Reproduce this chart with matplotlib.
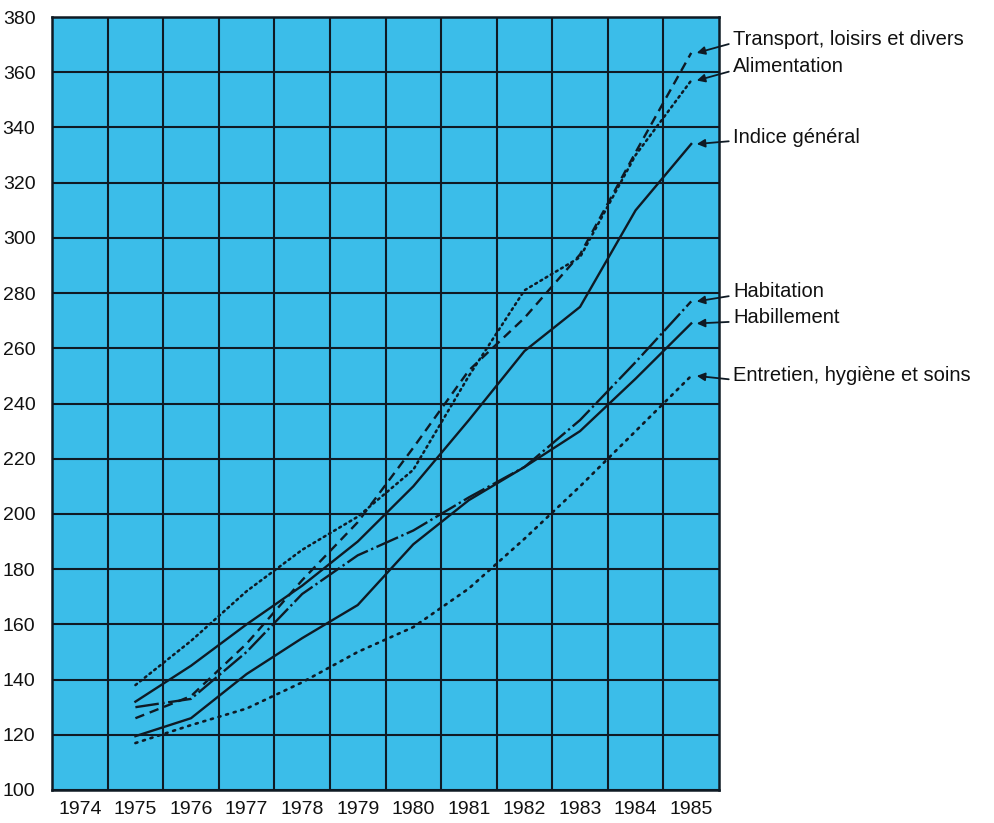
import matplotlib
matplotlib.use("Agg")
import matplotlib.pyplot as plt
import numpy as np

years = [1975, 1976, 1977, 1978, 1979, 1980, 1981, 1982, 1983, 1984, 1985]
year_labels = [1974, 1975, 1976, 1977, 1978, 1979, 1980, 1981, 1982, 1983, 1984, 1985]
y_ticks = list(range(100, 381, 20))

transport = [126, 134, 153, 176, 197, 224, 252, 271, 294, 331, 367]
alimentation = [138, 154, 172, 187, 199, 216, 250, 281, 293, 330, 357]
indice = [132, 145, 160, 174, 190, 210, 234, 259, 275, 310, 334]
habitation = [130, 133, 150, 171, 185, 194, 206, 217, 234, 255, 277]
habillement = [119.5, 126, 142, 155, 167, 189, 205, 217, 230, 249, 269]
entretien = [117, 123.5, 129.5, 139, 150, 159, 173, 191, 210, 230, 250]

labels = ["Transport, loisirs et divers", "Alimentation", "Indice général",
          "Habitation", "Habillement", "Entretien, hygiène et soins"]
label_y = [372, 362, 336.5, 280.5, 271, 250]

plt.rcParams['font.family'] = ['Liberation Sans', 'DejaVu Sans']

BG = '#3bbde9'
INK = '#0f1a24'

fig = plt.figure(figsize=(9.95, 8.23), dpi=100)
ax = fig.add_axes([0.0523, 0.0401, 0.6703, 0.9392])
ax.set_facecolor(BG)

series = [
    (transport, dict(linestyle=(0, (4, 2.5)), lw=1.7)),
    (alimentation, dict(linestyle=(0, (0.8, 1.6)), lw=1.8, dash_capstyle='round')),
    (indice, dict(linestyle='-', lw=1.7)),
    (habitation, dict(linestyle=(0, (10, 1.5, 1, 1.5)), lw=1.7)),
    (habillement, dict(linestyle='-', lw=1.7)),
    (entretien, dict(linestyle=(0, (0.8, 2.2)), lw=1.9, dash_capstyle='round')),
]
for vals, st in series:
    ax.plot(years, vals, color=INK, zorder=3, **st)

ax.set_xlim(1973.5, 1985.5)
ax.set_ylim(100, 380)
ax.set_xticks(year_labels)
ax.set_xticklabels([str(y) for y in year_labels], fontsize=14, color='#111111')
ax.set_xticks(np.arange(1974.5, 1985.5, 1), minor=True)
ax.set_yticks(y_ticks)
ax.set_yticklabels([str(v) for v in y_ticks], fontsize=14, color='#111111')
ax.tick_params(axis='both', which='both', length=0)
ax.tick_params(axis='x', pad=8)
ax.tick_params(axis='y', pad=12)
ax.grid(True, axis='y', which='major', color=INK, lw=1.5)
ax.grid(True, axis='x', which='minor', color=INK, lw=1.5)
ax.grid(False, axis='x', which='major')
for s in ax.spines.values():
    s.set_color(INK)
    s.set_linewidth(1.8)

ends = [transport[-1], alimentation[-1], indice[-1], habitation[-1], habillement[-1], entretien[-1]]
for lab, ty, ev in zip(labels, label_y, ends):
    ax.annotate(lab, xy=(1985.1, ev), xytext=(1985.75, ty), ha='left', va='center',
                fontsize=14.5, color='#111111', annotation_clip=False,
                arrowprops=dict(arrowstyle='-|>', color=INK, lw=1.3, mutation_scale=12,
                                shrinkA=1, shrinkB=0, relpos=(0, 0.3)))

fig.savefig('out.png', dpi=100)
